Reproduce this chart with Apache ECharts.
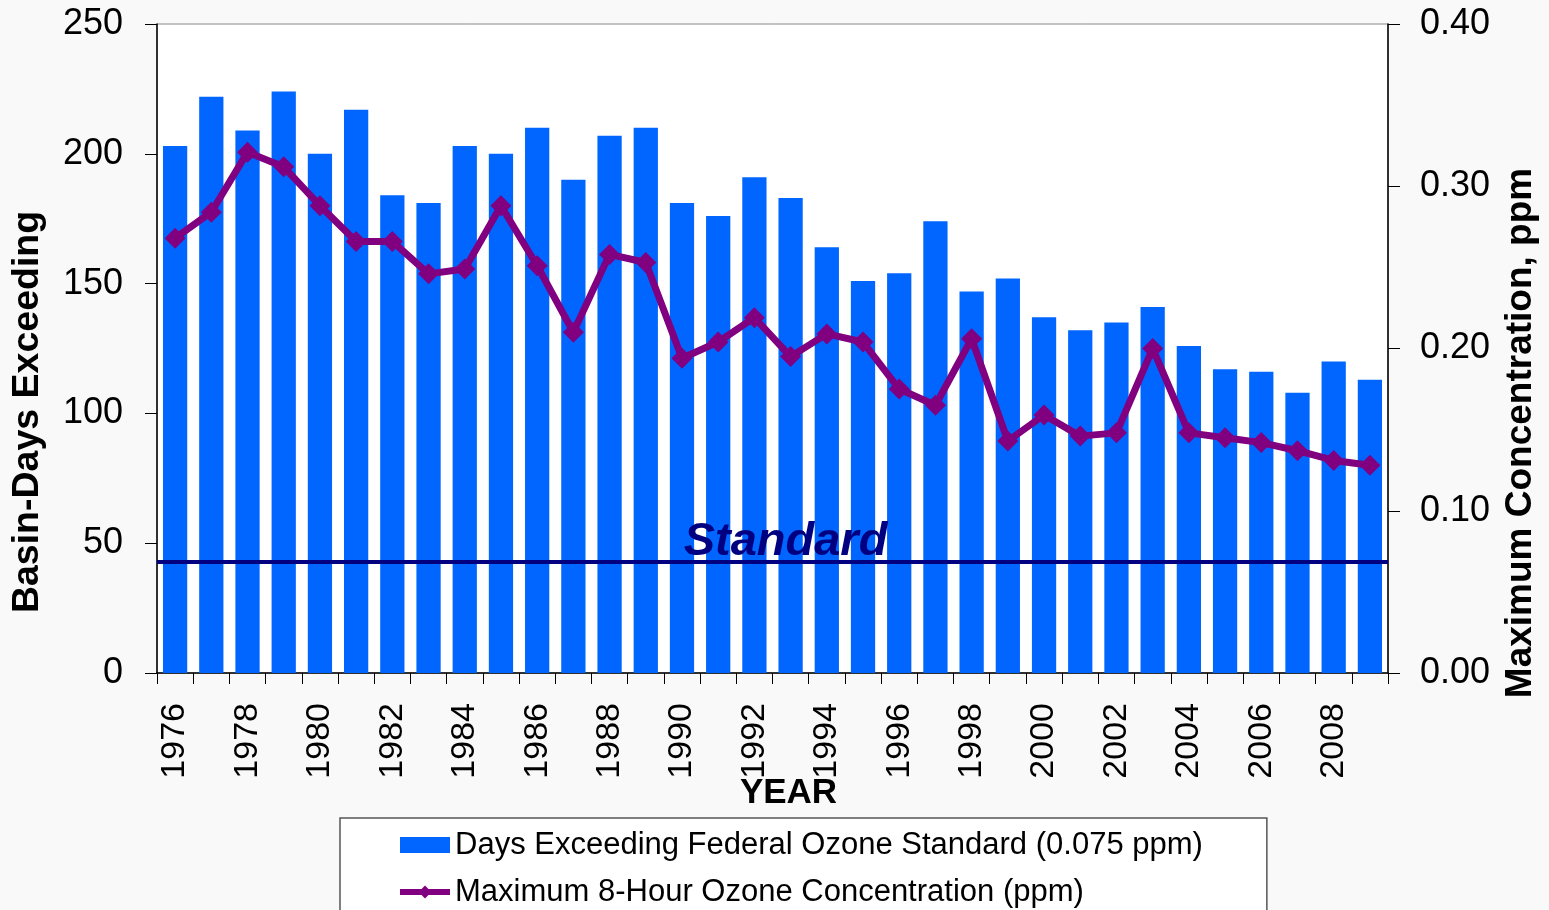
<!DOCTYPE html>
<html>
<head>
<meta charset="utf-8">
<script src="https://cdn.jsdelivr.net/npm/echarts@6/dist/echarts.min.js"></script>
<style>
  html, body { margin: 0; padding: 0; background: #f9f9f9; }
  #chart { width: 1549px; height: 910px; }
</style>
</head>
<body>
<div id="chart"></div>
<script>
// Years on the category axis
const years = ['1976','1977','1978','1979','1980','1981','1982','1983','1984','1985',
  '1986','1987','1988','1989','1990','1991','1992','1993','1994','1995',
  '1996','1997','1998','1999','2000','2001','2002','2003','2004','2005',
  '2006','2007','2008','2009'];

// Basin-days exceeding the federal 8-hour ozone standard
const daysExceeding = [203, 222, 209, 224, 200, 217, 184, 181, 203, 200,
  210, 190, 207, 210, 181, 176, 191, 183, 164, 151,
  154, 174, 147, 152, 137, 132, 135, 141, 126, 117,
  116, 108, 120, 113];

// Maximum 8-hour ozone concentration, ppm
const maxConcentration = [0.268, 0.284, 0.321, 0.312, 0.288, 0.266, 0.266, 0.246, 0.249, 0.288,
  0.251, 0.210, 0.258, 0.253, 0.194, 0.204, 0.219, 0.195, 0.209, 0.204,
  0.175, 0.165, 0.206, 0.143, 0.159, 0.146, 0.148, 0.200, 0.148, 0.145,
  0.142, 0.137, 0.131, 0.128];

// Reference level drawn across the plot (basin-days axis)
const standardLevel = 43;

const barName = 'Days Exceeding Federal Ozone Standard (0.075 ppm)';
const lineName = 'Maximum 8-Hour Ozone Concentration (ppm)';

const FONT = '"Liberation Sans", Arial, Helvetica, sans-serif';

const chart = echarts.init(document.getElementById('chart'), null, { renderer: 'canvas' });

chart.setOption({
  backgroundColor: '#f9f9f9',
  animation: false,
  textStyle: { fontFamily: FONT, color: '#000' },
  grid: {
    left: 157, right: 161, top: 24, bottom: 237,
    show: true, backgroundColor: '#ffffff',
    borderColor: '#888888', borderWidth: 1
  },
  legend: {
    orient: 'vertical',
    left: 340, top: 818,
    height: 200,
    padding: [10, 64, 40, 57],
    backgroundColor: '#ffffff',
    borderColor: '#555555', borderWidth: 1.5, borderRadius: 0,
    itemWidth: 50, itemHeight: 16, itemGap: 13,
    textStyle: { fontFamily: FONT, fontSize: 31, color: '#000', lineHeight: 34 },
    data: [
      { name: barName, icon: 'rect' },
      { name: lineName, lineStyle: { width: 6 } }
    ]
  },
  xAxis: {
    type: 'category',
    data: years,
    boundaryGap: true,
    name: 'YEAR',
    nameLocation: 'middle',
    nameGap: 103,
    nameMoveOverlap: false,
    nameTextStyle: {
      fontFamily: FONT, fontSize: 35, fontWeight: 'bold', color: '#000',
      padding: [0, 0, 0, 32]
    },
    axisLine: { show: true, lineStyle: { color: '#000', width: 1.5 } },
    axisTick: { show: true, interval: 0, length: 11, lineStyle: { color: '#000', width: 1 } },
    axisLabel: {
      interval: 1, rotate: 90, margin: 30,
      fontFamily: FONT, fontSize: 34, color: '#000'
    },
    splitLine: { show: false }
  },
  yAxis: [
    {
      type: 'value', min: 0, max: 250, interval: 50,
      axisLine: { show: true, lineStyle: { color: '#000', width: 1.5 } },
      axisTick: { show: true, length: 12, lineStyle: { color: '#000' } },
      axisLabel: { margin: 34, fontFamily: FONT, fontSize: 36, color: '#000' },
      splitLine: { show: false }
    },
    {
      type: 'value', min: 0, max: 0.4, interval: 0.1, position: 'right',
      axisLine: { show: true, lineStyle: { color: '#000', width: 1.5 } },
      axisTick: { show: true, length: 12, lineStyle: { color: '#000' } },
      axisLabel: {
        margin: 32, fontFamily: FONT, fontSize: 36, color: '#000',
        formatter: v => v.toFixed(2)
      },
      splitLine: { show: false }
    }
  ],
  series: [
    {
      name: barName,
      type: 'bar',
      data: daysExceeding,
      yAxisIndex: 0,
      barCategoryGap: '33%',
      itemStyle: { color: '#0066ff' },
      markLine: {
        silent: true,
        symbol: 'none',
        lineStyle: { color: '#000080', width: 4, type: 'solid' },
        label: {
          show: true, position: 'middle', distance: 2,
          offset: [13, 6],
          formatter: 'Standard',
          fontFamily: FONT, fontSize: 47, fontWeight: 'bold', fontStyle: 'italic',
          color: '#000080'
        },
        data: [{ yAxis: standardLevel }]
      },
      z: 2
    },
    {
      name: lineName,
      type: 'line',
      data: maxConcentration,
      yAxisIndex: 1,
      symbol: 'diamond',
      symbolSize: 21,
      lineStyle: { color: '#800080', width: 7 },
      itemStyle: { color: '#800080' },
      z: 5
    }
  ],
  graphic: [
    {
      type: 'text',
      x: 28, y: 412,
      rotation: Math.PI / 2,
      style: {
        text: 'Basin-Days Exceeding',
        font: 'bold 37.5px ' + FONT,
        fill: '#000',
        align: 'center', verticalAlign: 'middle'
      }
    },
    {
      type: 'text',
      x: 1521, y: 433,
      rotation: Math.PI / 2,
      style: {
        text: 'Maximum Concentration, ppm',
        font: 'bold 37px ' + FONT,
        fill: '#000',
        align: 'center', verticalAlign: 'middle'
      }
    }
  ]
});
</script>
</body>
</html>
